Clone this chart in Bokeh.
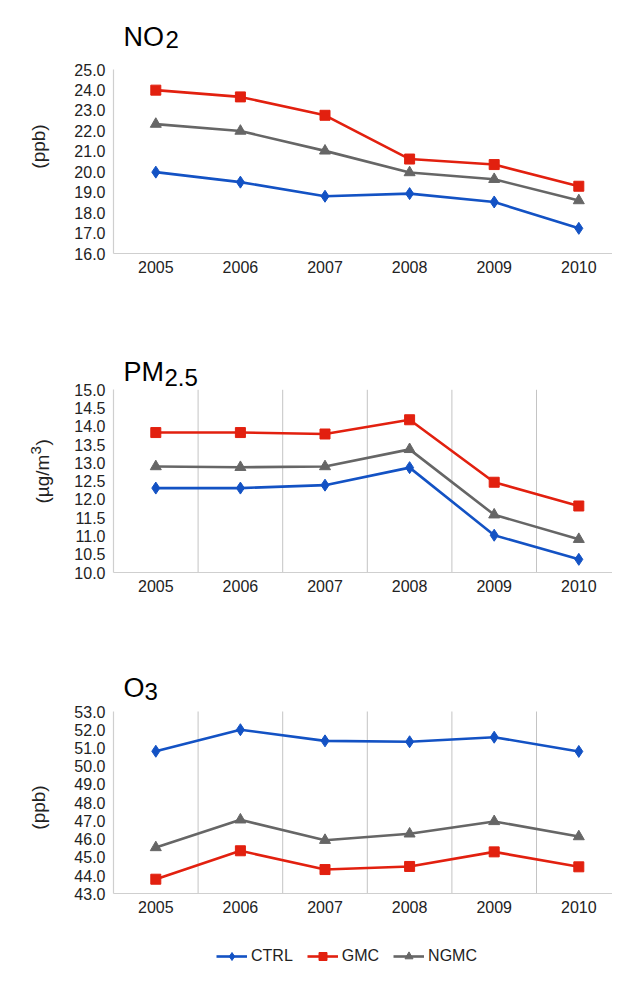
import math
from bokeh.plotting import figure
from bokeh.layouts import column
from bokeh.models import (Range1d, FixedTicker, NumeralTickFormatter, Label,
                          Legend, LegendItem)
from bokeh.embed import file_html
from bokeh.resources import INLINE

# ---------------- data ----------------
years = [2005, 2006, 2007, 2008, 2009, 2010]
series_names = ["CTRL", "GMC", "NGMC"]

no2_ctrl = [19.98, 19.49, 18.80, 18.93, 18.52, 17.23]
no2_gmc = [23.99, 23.66, 22.76, 20.62, 20.35, 19.29]
no2_ngmc = [22.33, 21.99, 21.02, 19.96, 19.63, 18.59]

pm_ctrl = [12.31, 12.31, 12.39, 12.87, 11.02, 10.36]
pm_gmc = [13.83, 13.83, 13.79, 14.18, 12.47, 11.82]
pm_ngmc = [12.90, 12.88, 12.90, 13.37, 11.58, 10.91]

o3_ctrl = [50.82, 52.00, 51.39, 51.34, 51.59, 50.81]
o3_gmc = [43.80, 45.36, 44.33, 44.50, 45.30, 44.48]
o3_ngmc = [45.54, 47.06, 45.94, 46.29, 46.97, 46.14]

no2_ticks = [16.0, 17.0, 18.0, 19.0, 20.0, 21.0, 22.0, 23.0, 24.0, 25.0]
pm_ticks = [10.0, 10.5, 11.0, 11.5, 12.0, 12.5, 13.0, 13.5, 14.0, 14.5, 15.0]
o3_ticks = [43.0, 44.0, 45.0, 46.0, 47.0, 48.0, 49.0, 50.0, 51.0, 52.0, 53.0]

# ---------------- style / layout ----------------
FONT = "Liberation Sans"
BLUE = "#1352c4"
RED = "#e2200f"
GRAY = "#666666"
AXIS_COL = "#cfcfcf"
GRID_COL = "#c4c4c4"
TXT = "#222222"
MARKERS = {"CTRL": ("diamond", BLUE, 12), "GMC": ("square", RED, 10), "NGMC": ("triangle", GRAY, 11)}

FIG_W = 612
PLOT_L, PLOT_R = 113.0, 612.0          # pixel x of the plot area
X_LO = years[0] - 0.5                   # data x at left edge of plot area
X_PX = 84.6                             # pixels per year


def panel(fig_h, plot_top, plot_bottom, yticks, data, vgrid):
    ylo, yhi = yticks[0], yticks[-1]
    ppu = (plot_bottom - plot_top) / (yhi - ylo)
    y_start = ylo - (fig_h - plot_bottom) / ppu
    y_end = yhi + plot_top / ppu
    x_start = X_LO - PLOT_L / X_PX
    x_end = X_LO + (FIG_W - PLOT_L) / X_PX
    x_hi = X_LO + (PLOT_R - PLOT_L) / X_PX

    p = figure(width=FIG_W, height=fig_h, output_backend="svg", toolbar_location=None,
               x_range=Range1d(x_start, x_end), y_range=Range1d(y_start, y_end),
               min_border=0)
    p.outline_line_color = None
    p.background_fill_color = None
    p.border_fill_color = None
    p.xgrid.visible = False
    p.ygrid.visible = False

    if vgrid:
        mids = [(a + b) / 2 for a, b in zip(years[:-1], years[1:])]
        p.segment(x0=mids, y0=[ylo] * len(mids), x1=mids, y1=[yhi] * len(mids),
                  line_color=GRID_COL, line_width=1)

    p.xaxis.ticker = FixedTicker(ticks=years)
    p.xaxis.major_label_overrides = {y: str(y) for y in years}
    p.xaxis.fixed_location = ylo
    p.xaxis.bounds = (X_LO, x_hi)
    p.yaxis.ticker = FixedTicker(ticks=yticks)
    p.yaxis.formatter = NumeralTickFormatter(format="0.0")
    p.yaxis.fixed_location = X_LO
    p.yaxis.bounds = (ylo, yhi)
    for ax in (p.xaxis, p.yaxis):
        ax.axis_line_color = AXIS_COL
        ax.axis_line_width = 1.2
        ax.major_tick_line_color = None
        ax.minor_tick_line_color = None
        ax.major_tick_in = 0
        ax.major_tick_out = 0
        ax.major_label_text_font = FONT
        ax.major_label_text_font_size = "16px"
        ax.major_label_text_color = TXT
    p.yaxis.major_label_standoff = 8
    p.xaxis.major_label_standoff = 7

    rends = {}
    for name, vals in zip(series_names, data):
        marker, col, size = MARKERS[name]
        lr = p.line(years, vals, line_color=col, line_width=2.6)
        sr = p.scatter(years, vals, marker=marker, size=size, fill_color=col, line_color=col)
        rends[name] = [lr, sr]
    return p, rends


def add_text(p, txt, x, y, size, angle=0.0, align="left", color="black"):
    p.add_layout(Label(x=x, y=y, x_units="screen", y_units="screen", text=txt,
                       text_font=FONT, text_font_size=size, text_color=color,
                       angle=angle, text_align=align, text_baseline="alphabetic"))


# NO2 panel (page y 0..320)
p1, _ = panel(320, 69, 253, no2_ticks, [no2_ctrl, no2_gmc, no2_ngmc], False)
add_text(p1, "NO", 123, 284, "27px")
add_text(p1, "2", 165, 281, "24px")
add_text(p1, "(ppb)", 38, 174, "19px", angle=math.pi / 2, align="center", color=TXT)

# PM2.5 panel (page y 320..640)
p2, _ = panel(320, 69.3, 252, pm_ticks, [pm_ctrl, pm_gmc, pm_ngmc], True)
add_text(p2, "PM", 123, 269, "27px")
add_text(p2, "2.5", 164, 263, "24px")
add_text(p2, "(\u00b5g/m", 42, 137, "19px", angle=math.pi / 2, color=TXT)
add_text(p2, "3", 35, 186, "15px", angle=math.pi / 2, color=TXT)
add_text(p2, ")", 42, 195, "19px", angle=math.pi / 2, color=TXT)

# O3 panel (page y 640..982)
p3, r3 = panel(342, 71, 253.3, o3_ticks, [o3_ctrl, o3_gmc, o3_ngmc], True)
add_text(p3, "O", 123, 295, "27px")
add_text(p3, "3", 144, 291, "24px")
add_text(p3, "(ppb)", 38, 175, "19px", angle=math.pi / 2, align="center", color=TXT)

legend = Legend(items=[LegendItem(label=n, renderers=r3[n]) for n in series_names],
                orientation="horizontal", location=(216, 16),
                label_text_font=FONT, label_text_font_size="16px", label_text_color=TXT,
                glyph_width=31, glyph_height=20, label_standoff=4, spacing=14,
                padding=0, margin=0, border_line_color=None, background_fill_alpha=0)
p3.add_layout(legend, "center")

layout = column(p1, p2, p3, spacing=0)
open("out.html", "w").write(file_html(layout, INLINE))
